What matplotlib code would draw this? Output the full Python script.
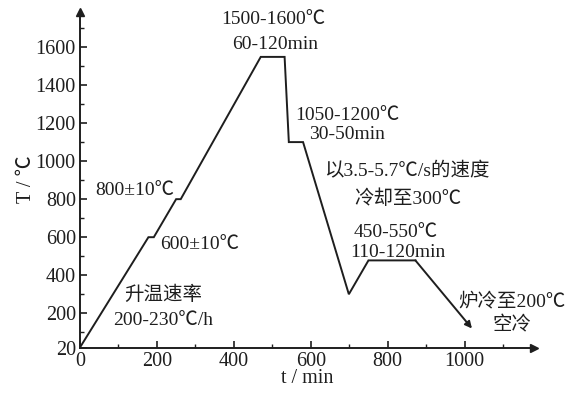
import matplotlib
matplotlib.use("Agg")
import matplotlib.pyplot as plt
from matplotlib.ticker import FixedLocator

plt.rcParams['font.family'] = ['Liberation Serif', 'Noto Sans CJK SC', 'DejaVu Sans']

# data
time_min = [0, 178, 192, 250, 262, 470, 532, 543, 580, 699, 750, 872, 1019]
temp_c = [20, 600, 600, 800, 800, 1548, 1548, 1100, 1100, 300, 478, 478, 120]

x_ticks = [0, 200, 400, 600, 800, 1000]
y_ticks = [20, 200, 400, 600, 800, 1000, 1200, 1400, 1600]

labels = [
    ("1500-1600℃", 504, 1742),
    ("60-120min", 508, 1612),
    ("1050-1200℃", 696, 1238),
    ("30-50min", 694, 1140),
    ("以3.5-5.7℃/s的速度", 850, 944),
    ("冷却至300℃", 852, 803),
    ("450-550℃", 820, 625),
    ("110-120min", 826, 520),
    ("炉冷至200℃", 1122, 263),
    ("空冷", 1122, 137),
    ("800±10℃", 143, 847),
    ("600±10℃", 310, 559),
    ("升温速率", 217, 298),
    ("200-230℃/h", 217, 163),
]

fig = plt.figure(figsize=(5.71, 3.94), dpi=100)
ax = fig.add_axes([0.140, 0.118, 0.795, 0.852])

ink = '#1e1e1e'
ax.plot(time_min[:-1], temp_c[:-1], color=ink, lw=1.4, solid_joinstyle='miter')
ax.annotate("", xy=(time_min[-1], temp_c[-1]), xytext=(time_min[-2], temp_c[-2]),
            arrowprops=dict(arrowstyle='-|>', color=ink, lw=1.4,
                            mutation_scale=10, shrinkA=0, shrinkB=0))

ax.set_xlim(0, 1180)
ax.set_ylim(20, 1785)
for s in ['top', 'right']:
    ax.spines[s].set_visible(False)
for s in ['left', 'bottom']:
    ax.spines[s].set_linewidth(1.4)
    ax.spines[s].set_color(ink)

# axis arrows
ax.plot(1, 20, '>', color=ink, ms=6, transform=ax.get_yaxis_transform(), clip_on=False)
ax.plot(0, 1, '^', color=ink, ms=6, transform=ax.get_xaxis_transform(), clip_on=False)

ax.xaxis.set_major_locator(FixedLocator(x_ticks))
ax.xaxis.set_minor_locator(FixedLocator([100, 300, 500, 700, 900, 1100]))
ax.yaxis.set_major_locator(FixedLocator(y_ticks))
ax.yaxis.set_minor_locator(FixedLocator([100, 300, 500, 700, 900, 1100, 1300, 1500, 1700]))
ax.tick_params(which='both', direction='in', color=ink, labelsize=14.5, labelcolor=ink)
ax.tick_params(which='major', length=5, width=1.2, pad=3)
ax.tick_params(which='minor', length=3, width=1.0)

ax.set_xlabel("t / min", fontsize=14.5, color=ink, labelpad=-1)
ax.set_ylabel("T / ℃", fontsize=14.5, color=ink, labelpad=0)

for txt, x, y in labels:
    ax.text(x, y, txt, ha='center', va='center', fontsize=14, color=ink, clip_on=False)

fig.savefig("out.png", dpi=100)
